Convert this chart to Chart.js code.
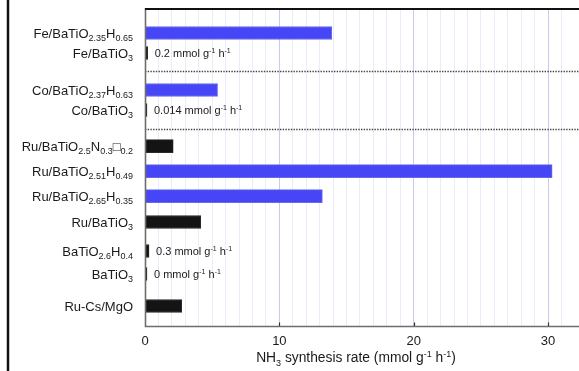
<!DOCTYPE html>
<html>
<head>
<meta charset="utf-8">
<script src="https://cdn.jsdelivr.net/npm/chart.js@4/dist/chart.umd.min.js"></script>
<style>
  html, body { margin: 0; padding: 0; background: #fff; }
  #wrap { width: 579px; height: 371px; }
</style>
</head>
<body>
<div id="wrap"><canvas id="c" width="579" height="371"></canvas></div>
<script>
// Catalysts, top to bottom. _{..} marks a subscript, ^{..} a superscript.
const categories = [
  'Fe/BaTiO_{2.35}H_{0.65}',
  'Fe/BaTiO_{3}',
  'Co/BaTiO_{2.37}H_{0.63}',
  'Co/BaTiO_{3}',
  'Ru/BaTiO_{2.5}N_{0.3}\u25A1_{0.2}',
  'Ru/BaTiO_{2.51}H_{0.49}',
  'Ru/BaTiO_{2.65}H_{0.35}',
  'Ru/BaTiO_{3}',
  'BaTiO_{2.6}H_{0.4}',
  'BaTiO_{3}',
  'Ru-Cs/MgO'
];
// NH3 synthesis rate, mmol g-1 h-1
const rates = [13.9, 0.2, 5.4, 0.014, 2.1, 30.3, 13.2, 4.15, 0.3, 0, 2.73];
// hydride-containing catalysts are drawn in blue
const hydride = [true, false, true, false, false, true, true, false, false, false, false];
// small rates that get their value written next to the bar
const annotated = [false, true, false, true, false, false, false, false, true, true, false];
const xTicks = [0, 10, 20, 30];
const xTitle = 'NH_{3} synthesis rate (mmol g^{-1} h^{-1})';
const unitText = ' mmol g^{-1} h^{-1}';

// Row layout along the vertical axis (row units, 0 = top of plot)
const rowPos = [1.10, 1.98, 3.61, 4.49, 6.08, 7.18, 8.28, 9.42, 10.70, 11.71, 13.12];
const groupBreaks = [2.77, 5.33];

const FONT = '"Liberation Sans", Arial, Helvetica, sans-serif';
const BLUE = '#4646f6';
const BLACK = '#141414';

function parseRich(s) {
  const out = [];
  const re = /_\{([^}]*)\}|\^\{([^}]*)\}|([^_^]+)/g;
  let m;
  while ((m = re.exec(s)) !== null) {
    if (m[1] !== undefined) out.push({ t: m[1], k: 'sub' });
    else if (m[2] !== undefined) out.push({ t: m[2], k: 'sup' });
    else out.push({ t: m[3], k: 'n' });
  }
  return out;
}

// Draws text with sub/superscripts; align 'left' | 'right' | 'center'
function drawRich(ctx, s, x, yMid, size, align, color) {
  const parts = parseRich(s);
  const small = Math.round(size * 0.68);
  const fontFor = k => (k === 'n' ? size : small) + 'px ' + FONT;
  let w = 0;
  parts.forEach(p => { ctx.font = fontFor(p.k); p.w = ctx.measureText(p.t).width; w += p.w; });
  let cx = align === 'right' ? x - w : align === 'center' ? x - w / 2 : x;
  const base = yMid + size * 0.36;
  ctx.fillStyle = color;
  ctx.textBaseline = 'alphabetic';
  ctx.textAlign = 'left';
  parts.forEach(p => {
    ctx.font = fontFor(p.k);
    let by = base;
    if (p.k === 'sub') by = base + size * 0.27;
    if (p.k === 'sup') by = base - size * 0.38;
    ctx.fillText(p.t, cx, by);
    cx += p.w;
  });
}

const blueData = [], blackData = [];
categories.forEach((c, i) => {
  const pt = { x: rates[i], y: rowPos[i] };
  (hydride[i] ? blueData : blackData).push(pt);
});

const decorations = {
  id: 'decorations',
  afterDatasetsDraw(chart) {
    const { ctx, chartArea: a, scales: { x, y } } = chart;
    const right = chart.width;
    ctx.save();

    // group separators
    ctx.strokeStyle = '#444';
    ctx.lineWidth = 1.4;
    ctx.setLineDash([1.4, 1.3]);
    groupBreaks.forEach(v => {
      const py = Math.round(y.getPixelForValue(v)) + 0.5;
      ctx.beginPath(); ctx.moveTo(a.left, py); ctx.lineTo(right, py); ctx.stroke();
    });
    ctx.setLineDash([]);

    // axes
    ctx.strokeStyle = '#6e6e6e';
    ctx.lineWidth = 1.6;
    ctx.beginPath();
    ctx.moveTo(a.left + 0.5, a.top);
    ctx.lineTo(a.left + 0.5, a.bottom + 0.5);
    ctx.lineTo(right, a.bottom + 0.5);
    ctx.stroke();

    // inward tick marks
    ctx.strokeStyle = '#333';
    ctx.lineWidth = 1.2;
    xTicks.forEach(v => {
      if (v === 0) return;
      const px = Math.round(x.getPixelForValue(v)) + 0.5;
      ctx.beginPath(); ctx.moveTo(px, a.bottom); ctx.lineTo(px, a.bottom - 3.5); ctx.stroke();
    });

    // top frame line
    ctx.strokeStyle = '#111';
    ctx.lineWidth = 2;
    ctx.beginPath(); ctx.moveTo(a.left, a.top + 1); ctx.lineTo(right, a.top + 1); ctx.stroke();

    // left page rule
    ctx.lineWidth = 2.5;
    ctx.beginPath(); ctx.moveTo(8, 0); ctx.lineTo(8, chart.height); ctx.stroke();

    // category labels
    categories.forEach((c, i) => {
      drawRich(ctx, c, a.left - 12, y.getPixelForValue(rowPos[i]), 13, 'right', '#1a1a1a');
    });

    // value notes next to the small bars
    chart.data.datasets.forEach((ds, di) => {
      const meta = chart.getDatasetMeta(di);
      ds.data.forEach((pt, j) => {
        const i = rowPos.indexOf(pt.y);
        if (!annotated[i]) return;
        const el = meta.data[j];
        drawRich(ctx, String(rates[i]) + unitText, el.x + 7, el.y, 11, 'left', '#1a1a1a');
      });
    });

    // axis title
    drawRich(ctx, xTitle, x.getPixelForValue(15.7), 357, 13.8, 'center', '#1a1a1a');

    ctx.restore();
  }
};

new Chart(document.getElementById('c'), {
  type: 'bar',
  data: {
    datasets: [
      {
        label: 'hydride',
        data: blueData,
        backgroundColor: BLUE,
        borderColor: '#6a6ae8',
        borderWidth: 1,
        barThickness: 13,
        grouped: false
      },
      {
        label: 'reference',
        data: blackData,
        backgroundColor: BLACK,
        borderColor: '#2a2a2a',
        borderWidth: 1,
        barThickness: 13,
        minBarLength: 2,
        grouped: false
      }
    ]
  },
  options: {
    indexAxis: 'y',
    responsive: false,
    devicePixelRatio: 1,
    animation: false,
    layout: { autoPadding: false, padding: { top: 8, left: 0, right: 0, bottom: 0 } },
    plugins: { legend: { display: false }, tooltip: { enabled: false } },
    scales: {
      x: {
        type: 'linear',
        min: 0,
        max: 32.3,
        offset: false,
        border: { display: false },
        grid: {
          drawTicks: true,
          tickLength: 8,
          tickColor: 'rgba(0,0,0,0)',
          lineWidth: 1,
          color: c => (c.tick && c.tick.value % 10 === 0 && c.tick.value > 0) ? '#c9c9f4' : '#ebebfc'
        },
        ticks: {
          stepSize: 1,
          autoSkip: false,
          maxRotation: 0,
          padding: 0,
          color: '#1a1a1a',
          font: { family: FONT, size: 13 },
          callback: v => (xTicks.includes(v) ? String(v) : '')
        },
        afterFit: s => { s.height = 45; }
      },
      y: {
        type: 'linear',
        reverse: true,
        min: 0,
        max: 14,
        offset: false,
        border: { display: false },
        grid: { display: false },
        ticks: { display: false },
        afterFit: s => { s.width = 145; }
      }
    }
  },
  plugins: [decorations]
});
</script>
</body>
</html>
